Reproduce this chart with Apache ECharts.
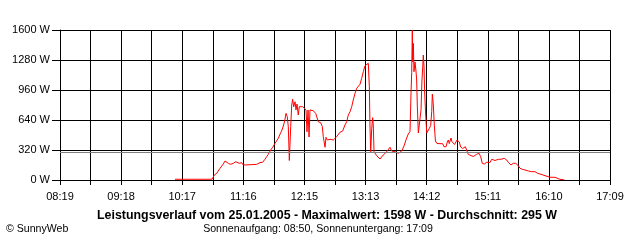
<!DOCTYPE html>
<html><head><meta charset="utf-8">
<script src="https://cdn.jsdelivr.net/npm/echarts@6/dist/echarts.min.js"></script>
<style>html,body{margin:0;padding:0;background:#fff}#c{width:640px;height:240px}</style>
</head><body><div id="c"></div>
<script>
// X tick labels (every second grid line carries a label)
const xTickLabels = ['08:19','09:18','10:17','11:16','12:15','13:13','14:12','15:11','16:10','17:09'];
// Y axis ticks in W
const yTicks = [0, 320, 640, 960, 1280, 1600];
// Sample times, minutes after midnight
const timeMinutes = [
 609.8,614.6,619.5,629.1,638.7,645.5,646.1,647.7,650.0,651.9,653.2,655.1,656.4,658.0,659.6,661.2,663.5,666.0,668.3,670.2,
 671.8,674.1,675.6,677.3,682.1,688.5,691.7,694.3,696.5,698.2,699.7,702.0,704.0,706.2,707.8,709.4,710.3,711.7,712.9,714.2,
 715.5,716.8,718.0,719.0,720.0,721.3,722.3,723.2,724.2,725.5,726.4,727.4,728.6,729.6,732.9,734.4,736.1,737.0,738.0,739.0,
 739.9,741.5,743.1,745.4,746.4,747.9,750.2,751.8,752.7,754.4,755.3,756.6,759.2,762.4,765.6,768.8,771.4,773.6,775.3,776.8,
 778.5,780.1,781.6,783.3,784.9,786.5,788.1,789.7,791.3,792.9,794.5,796.1,797.1,797.7,798.4,799.4,800.3,800.9,801.6,802.5,
 804.2,805.7,807.4,809.0,810.5,813.8,815.4,817.0,818.6,821.8,825.0,826.6,828.3,830.5,832.4,834.6,836.3,837.2,837.9,838.5,
 838.9,839.5,840.1,841.1,842.1,842.7,843.3,844.3,845.9,846.9,847.8,848.5,849.1,849.8,850.4,851.4,852.4,853.3,854.9,856.2,
 857.2,857.8,858.7,859.7,860.8,862.3,867.8,869.0,871.0,872.2,873.2,874.1,875.8,876.7,878.0,879.2,880.3,881.6,883.0,883.8,
 885.1,887.1,888.3,889.6,891.2,892.5,894.1,897.3,900.5,902.8,904.4,905.9,907.9,910.2,913.4,915.0,918.2,921.4,924.0,927.1,
 929.5,931.0,933.6,935.8,938.1,940.1,942.3,944.5,947.1,950.3,953.5,956.7,959.3,962.5,966.4,971.2,976.0,977.6,980.8,985.0
];
// Power in W
const powerW = [
 8,8,8,8,8,8,29,53,71,89,125,142,171,203,203,178,167,178,195,195,
 178,185,160,157,163,167,185,189,221,249,274,320,349,391,409,445,469,505,533,576,
 629,711,675,569,208,569,800,861,782,835,747,811,693,782,782,775,747,515,747,459,
 747,754,739,711,711,622,611,569,462,349,455,427,434,427,462,509,523,587,622,693,
 729,782,853,925,978,978,1021,1085,1155,1219,1234,1245,995,587,302,551,665,587,302,285,
 259,256,224,238,267,302,320,349,309,302,285,304,309,363,427,491,517,907,1145,1598,
 1259,1458,1155,1259,1152,1067,800,501,491,747,1067,1195,1333,1205,928,693,501,515,551,581,
 729,917,811,587,416,389,387,355,355,405,427,389,448,409,421,379,395,427,443,405,
 352,336,338,355,363,272,256,251,274,285,249,178,171,189,187,221,208,221,221,231,
 213,189,160,178,178,160,125,114,107,96,89,89,71,61,46,29,29,18,7,2
];
const averageW = 295;

const toMin = s => { const [h, m] = s.split(':').map(Number); return h * 60 + m; };
const tStart = toMin(xTickLabels[0]);
const tEnd = toMin(xTickLabels[xTickLabels.length - 1]);
const gridSteps = (xTickLabels.length - 1) * 2;
const seriesData = timeMinutes.map((t, i) => [(t - tStart) * gridSteps / (tEnd - tStart), powerW[i]]);

const FONT = "'Liberation Sans', Arial, sans-serif";
const chart = echarts.init(document.getElementById('c'), null, {renderer: 'canvas'});
chart.setOption({
  animation: false,
  backgroundColor: '#ffffff',
  grid: {left: 60, right: 30, top: 30, bottom: 60, containLabel: false},
  xAxis: {
    type: 'value', min: 0, max: gridSteps, interval: 1,
    axisLine: {show: true, lineStyle: {color: '#000', width: 1}},
    axisTick: {show: true, length: 5, lineStyle: {color: '#000', width: 1}},
    axisLabel: {
      color: '#000', fontFamily: FONT, fontSize: 11, margin: 11,
      formatter: v => { const k = Math.round(v); return k % 2 === 0 ? xTickLabels[k / 2] : ''; }
    },
    splitLine: {show: true, lineStyle: {color: '#000', width: 1}}
  },
  yAxis: {
    type: 'value', min: yTicks[0], max: yTicks[yTicks.length - 1], interval: yTicks[1] - yTicks[0],
    axisLine: {show: true, lineStyle: {color: '#000', width: 1}},
    axisTick: {show: true, length: 8, lineStyle: {color: '#000', width: 1}},
    axisLabel: {color: '#000', fontFamily: FONT, fontSize: 11, margin: 10, formatter: v => v + ' W'},
    splitLine: {show: true, lineStyle: {color: '#000', width: 1}}
  },
  series: [{
    type: 'line', data: seriesData, showSymbol: false, symbol: 'none',
    lineStyle: {color: '#ff0000', width: 1}, itemStyle: {color: '#ff0000'},
    z: 3,
    markLine: {
      silent: true, symbol: ['none', 'none'], label: {show: false},
      lineStyle: {color: '#808080', type: 'solid', width: 1},
      data: [{yAxis: averageW}]
    }
  }],
  graphic: [
    {type: 'text', x: 327, y: 216, style: {text: 'Leistungsverlauf vom 25.01.2005 - Maximalwert: 1598 W - Durchschnitt: 295 W', font: "bold 12.4px " + FONT, fill: '#000', textAlign: 'center', textVerticalAlign: 'middle'}},
    {type: 'text', x: 318, y: 229, style: {text: 'Sonnenaufgang: 08:50, Sonnenuntergang: 17:09', font: "10.6px " + FONT, fill: '#000', textAlign: 'center', textVerticalAlign: 'middle'}},
    {type: 'text', x: 6, y: 229, style: {text: '© SunnyWeb', font: "10.6px " + FONT, fill: '#000', textVerticalAlign: 'middle'}}
  ]
});
</script></body></html>
